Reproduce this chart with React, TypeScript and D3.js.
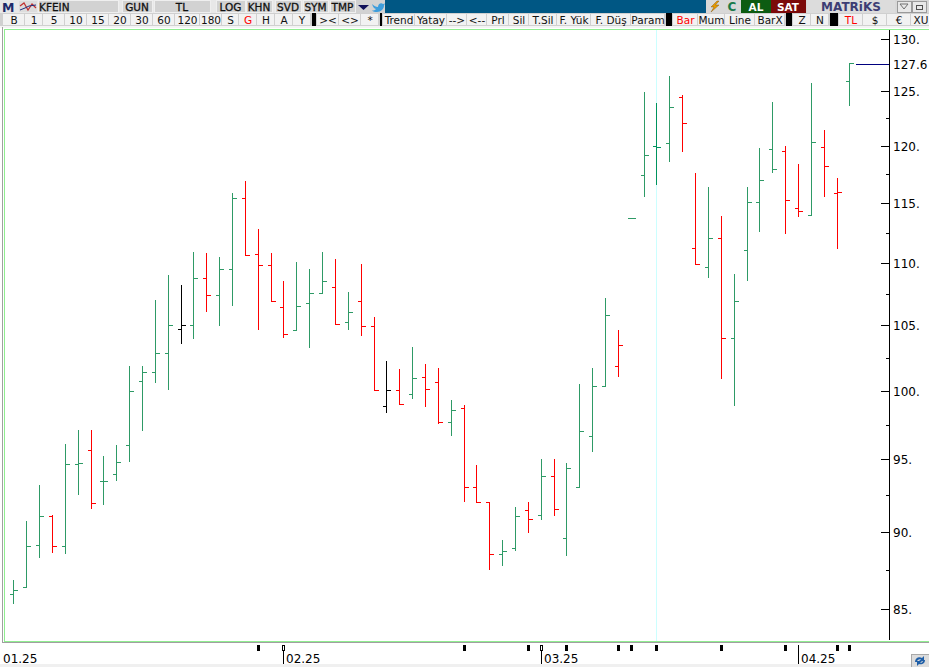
import React, { useRef, useEffect } from 'react';
import * as d3 from 'd3';

const opens = [
  85.94, 86.39, 89.14, 91.09, 89.07, 94.69, 95.68, 93.5, 93.99, 96.06, 100.74,
  101.41, 102.86, 104.72, 105.03, 108.78, 107.41, 109.51, 115.47, 110.74, 109.84,
  106.45, 104.64, 106.77, 107.57, 108.05, 105.27, 106.93, 104.95, 98.88, 100.06,
  99.76, 101.04, 100.66, 97.7, 98.73, 93.08, 92.04, 88.54, 88.94, 91.5,
  91.16, 93.85, 89.61, 93.08, 96.69, 100.36, 101.87, 113.76, 117.46, 120.03,
  120.3, 124.5, 111.24, 109.67, 112.07, 104.02, 111.07, 115.12, 119.76, 119.58,
  114.61, 114.01, 119.94, 115.9, 125.99,
];
const highs = [
  86.86, 90.77, 93.24, 91.16, 96.13, 97.14, 97.14, 95.21, 96.06, 101.89, 101.89,
  107.03, 108.97, 108.16, 110.93, 110.77, 110.52, 115.92, 116.88, 112.85, 110.77,
  108.48, 110.03, 109.53, 110.93, 110.35, 107.67, 109.94, 105.68, 102.27, 101.59,
  103.27, 102.04, 101.74, 99.27, 98.97, 94.64, 92.04, 89.49, 91.72, 92.06,
  95.06, 95.06, 94.78, 100.46, 101.74, 107.19, 104.66, 113.76, 124.99, 123.88,
  126.49, 124.62, 117.66, 116.44, 113.95, 109.05, 116.44, 119.79, 124.06, 119.97,
  118.37, 125.74, 121.41, 117.14, 127.63,
];
const lows = [
  85.34, 86.39, 88.32, 88.65, 88.58, 92.57, 91.63, 91.88, 93.54, 94.87, 97.14,
  100.63, 100.11, 103.6, 103.99, 106.1, 105.0, 106.58, 110.66, 104.69, 106.93,
  104.06, 104.64, 103.29, 107.57, 105.11, 104.69, 104.22, 100.06, 98.4, 99.02,
  99.44, 98.85, 97.6, 96.73, 92.09, 92.04, 87.53, 87.79, 88.78, 89.98,
  90.86, 91.13, 88.45, 93.08, 95.58, 100.36, 101.08, 113.76, 115.6, 116.64,
  118.66, 119.55, 109.92, 108.83, 100.93, 98.92, 108.58, 112.68, 117.75, 112.46,
  113.89, 114.01, 115.6, 111.21, 123.72,
];
const closes = [
  86.2, 89.07, 91.09, 89.03, 94.69, 94.76, 91.98, 93.5, 94.83, 99.99, 101.41,
  102.86, 105.03, 105.03, 108.78, 107.41, 109.51, 115.47, 110.66, 109.84, 106.93,
  104.33, 106.53, 107.57, 108.53, 105.11, 106.05, 104.95, 100.06, 100.06, 99.02,
  100.96, 100.14, 97.7, 98.58, 93.08, 92.04, 88.54, 88.74, 91.09, 90.88,
  93.85, 91.56, 94.41, 97.05, 100.36, 105.82, 103.48, 113.76, 119.23, 119.94,
  123.57, 122.11, 109.92, 112.07, 104.02, 106.93, 115.12, 117.03, 117.99, 115.29,
  114.35, 120.39, 118.25, 115.98, 127.63,
];

const majorTicks = [130, 125, 120, 115, 110, 105, 100, 95, 90, 85];
const minorTicks = [122.5, 117.5, 112.5, 107.5, 102.5, 97.5, 92.5, 87.5];
const lastPrice = 127.6;

const monthLabels = ['02.25', '03.25', '04.25'];
const monthBars = [21, 41, 61];
const eventBars = [19, 35, 40, 43, 47, 48, 50, 55, 60, 64, 65];
const cursorBar = 50;

const topLabels = ['KFEIN', 'GUN', 'TL', 'LOG', 'KHN', 'SVD', 'SYM', 'TMP'];
const topEdges = [[38, 118], [122, 152], [154, 210], [216, 245], [246, 272], [275, 301], [303, 328], [330, 355]];

const rowLabels = [
  'B', '1', '5', '10', '15', '20', '30', '60', '120', '180', 'S', 'G', 'H', 'A', 'Y', '|',
  '><', '<>', '*', '|', 'Trend', 'Yatay', '-->', '<--', 'Prl', 'Sil', 'T.Sil', 'F. Yük', 'F. Düş', 'Param', '|',
  'Bar', 'Mum', 'Line', 'BarX', '|', 'Z', 'N', '|', 'TL', '$', '€', 'XU',
];
const rowEdges = [
  3, 25, 43, 65, 87, 109, 131, 153, 175, 200, 222, 239, 257, 275, 293, 311,
  317, 339, 361, 379, 383, 415, 447, 467, 487, 509, 529, 557, 591, 631, 665,
  673, 698, 725, 755, 785, 793, 811, 829, 839, 863, 887, 911, 931,
];
const redLabels = ['G', 'Bar', 'TL'];

const GREEN = '#2e9a66';
const RED = '#ff0000';
const FONT = '"DejaVu Sans", Verdana, sans-serif';

const App: React.FC = () => {
  const ref = useRef<SVGSVGElement>(null);

  useEffect(() => {
    const svg = d3.select(ref.current);
    svg.selectAll('*').remove();

    const width = 929;
    const height = 667;
    const plotTop = 29;
    const plotBottom = 641;
    const axisX = 889;

    const x = d3.scaleLinear().domain([0, 65]).range([13.9, 849.9]);
    const y = d3.scaleLog().domain([130, 85]).range([39.3, 609.1]);
    const px = (i: number) => Math.floor(x(i)) + 0.5;
    const py = (v: number) => Math.floor(y(v)) + 0.5;

    svg.append('rect').attr('width', width).attr('height', height).attr('fill', '#ffffff');

    // frame
    const chrome = svg.append('g').attr('shape-rendering', 'crispEdges');
    chrome.append('rect').attr('x', 0).attr('y', 26).attr('width', width).attr('height', 2).attr('fill', '#f4f4f4');
    chrome.append('rect').attr('x', 2).attr('y', 27).attr('width', 1).attr('height', 616).attr('fill', '#a0a0a0');
    chrome.append('rect').attr('x', 4).attr('y', 29).attr('width', 1).attr('height', 613).attr('fill', '#90ee90');
    chrome.append('rect').attr('x', 4).attr('y', plotTop).attr('width', width).attr('height', 1).attr('fill', '#90ee90');
    chrome.append('rect').attr('x', 4).attr('y', plotBottom).attr('width', width).attr('height', 1).attr('fill', '#90ee90');
    chrome.append('rect').attr('x', 2).attr('y', plotBottom + 1).attr('width', width).attr('height', 1).attr('fill', '#a0a0a0');
    chrome.append('rect').attr('x', 0).attr('y', 664).attr('width', width).attr('height', 3).attr('fill', '#f0f0f0');

    // cursor line
    chrome.append('line')
      .attr('x1', px(cursorBar)).attr('x2', px(cursorBar))
      .attr('y1', plotTop + 1).attr('y2', plotBottom)
      .attr('stroke', '#ccffff');

    // OHLC bars, coloured against the previous close
    const barColor = (i: number) => {
      if (i === 0 || closes[i] > closes[i - 1]) return i === cursorBar ? '#00945f' : GREEN;
      if (closes[i] < closes[i - 1]) return RED;
      return '#000000';
    };
    svg.append('g').attr('shape-rendering', 'crispEdges')
      .selectAll('path')
      .data(d3.range(closes.length))
      .enter().append('path')
        .attr('fill', 'none')
        .attr('stroke', d => barColor(d))
        .attr('stroke-width', 1)
        .attr('d', d => {
          const cx = px(d);
          const stem = `M${cx},${Math.floor(y(highs[d]))}V${Math.floor(y(lows[d])) + 1}`;
          const open = `M${cx - 3.5},${py(opens[d])}H${cx}`;
          const close = `M${cx},${py(closes[d])}H${cx + 4}`;
          return stem + open + close;
        });

    // price axis
    const axis = svg.append('g').attr('shape-rendering', 'crispEdges');
    axis.append('line')
      .attr('x1', axisX + 0.5).attr('x2', axisX + 0.5)
      .attr('y1', 30).attr('y2', 640)
      .attr('stroke', '#000');
    axis.selectAll('line.major').data(majorTicks).enter().append('line')
      .attr('class', 'major')
      .attr('x1', axisX - 8).attr('x2', axisX)
      .attr('y1', d => py(d)).attr('y2', d => py(d))
      .attr('stroke', '#000');
    axis.selectAll('line.minor').data(minorTicks).enter().append('line')
      .attr('class', 'minor')
      .attr('x1', axisX - 3).attr('x2', axisX)
      .attr('y1', d => py(d)).attr('y2', d => py(d))
      .attr('stroke', '#000');
    svg.append('g').selectAll('text').data(majorTicks).enter().append('text')
      .attr('x', 893)
      .attr('y', d => py(d) + 4.5)
      .attr('font-family', FONT)
      .attr('font-size', 12)
      .attr('fill', '#000')
      .text(d => `${d}.`);

    // last price marker
    axis.append('line')
      .attr('x1', 856).attr('x2', axisX)
      .attr('y1', py(lastPrice)).attr('y2', py(lastPrice))
      .attr('stroke', '#00007f');
    svg.append('text')
      .attr('x', 893).attr('y', py(lastPrice) + 4.5)
      .attr('font-family', FONT).attr('font-size', 12)
      .text(lastPrice.toFixed(1));

    // time axis
    const time = svg.append('g');
    const timeMarks = time.append('g').attr('shape-rendering', 'crispEdges');
    timeMarks.selectAll('rect.evt').data(eventBars).enter().append('rect')
      .attr('class', 'evt')
      .attr('x', d => px(d) - 1.5).attr('y', 645)
      .attr('width', 3).attr('height', 6)
      .attr('fill', '#000');
    timeMarks.selectAll('rect.mon').data(monthBars.slice(0, 2)).enter().append('rect')
      .attr('class', 'mon')
      .attr('x', d => px(d) - 1).attr('y', 645.5)
      .attr('width', 2).attr('height', 5)
      .attr('fill', '#fff').attr('stroke', '#000');
    timeMarks.selectAll('line').data(monthBars).enter().append('line')
      .attr('x1', d => px(d)).attr('x2', d => px(d))
      .attr('y1', (d, i) => (i < 2 ? 650 : 645)).attr('y2', 664)
      .attr('stroke', '#000');
    time.selectAll('text.month').data(monthLabels).enter().append('text')
      .attr('class', 'month')
      .attr('x', (d, i) => px(monthBars[i]) + 2.5)
      .attr('y', 663)
      .attr('font-family', FONT).attr('font-size', 12).attr('fill', '#000')
      .text(d => d);
    time.append('text')
      .attr('x', 3).attr('y', 663)
      .attr('font-family', FONT).attr('font-size', 12).attr('fill', '#000')
      .text('01.25');

    // top toolbar
    const tb = svg.append('g');
    const tbBoxes = tb.append('g').attr('shape-rendering', 'crispEdges');
    tbBoxes.append('rect').attr('width', width).attr('height', 13).attr('fill', '#e8e8e8');
    tbBoxes.append('rect').attr('x', 385).attr('width', 321).attr('height', 13).attr('fill', '#005784');
    topLabels.forEach((label, i) => {
      const [a, b] = topEdges[i];
      tbBoxes.append('rect').attr('x', a).attr('y', 0).attr('width', b - a).attr('height', 12)
        .attr('fill', '#d2d2d2').attr('stroke', '#efefef');
      tb.append('text')
        .attr('x', i === 0 ? a + 1 : (a + b) / 2).attr('y', 10.5)
        .attr('text-anchor', i === 0 ? 'start' : 'middle')
        .attr('font-family', FONT).attr('font-size', 10.5).attr('fill', '#111')
        .attr('stroke', '#111').attr('stroke-width', 0.3)
        .text(label);
    });

    // logo and small icons
    tb.append('text').attr('x', 2).attr('y', 12)
      .attr('font-family', FONT).attr('font-weight', 'bold').attr('font-size', 12.5).attr('fill', '#1d2a6b').text('M');
    tbBoxes.append('rect').attr('x', 19).attr('y', 1).attr('width', 18).attr('height', 11).attr('fill', '#dcdcdc');
    tb.append('path').attr('d', 'M20,6L24,3L28,10L32,4L36,8').attr('fill', 'none').attr('stroke', '#c03030').attr('stroke-width', 1.2);
    tb.append('path').attr('d', 'M20,10L25,8L29,6L36,5').attr('fill', 'none').attr('stroke', '#203080').attr('stroke-width', 1);
    tbBoxes.append('rect').attr('x', 356).attr('y', 0).attr('width', 15).attr('height', 13).attr('fill', '#d2d2d2');
    tb.append('path').attr('d', 'M358,5H369L363.5,10Z').attr('fill', '#10105a');
    tbBoxes.append('rect').attr('x', 371).attr('y', 0).attr('width', 14).attr('height', 13).attr('fill', '#d2d2d2');
    tb.append('path')
      .attr('d', 'M372,4C374,6 376,7 378,7C378,4 381,2 383,4L385,3.5L384,5.5C384,9 381,12 377,12C375,12 373,11.5 372,10.5C374,10.5 375,10 376,9C374,8.5 373,7 372,4Z')
      .attr('fill', '#3d9ddc');

    // right block of the top row
    tbBoxes.append('rect').attr('x', 706).attr('width', 223).attr('height', 13).attr('fill', '#d8d8d8');
    tb.append('path').attr('d', 'M717,1L711,7H714L711,12L719,5H715.5L719,1Z').attr('fill', '#e69a00').attr('stroke', '#7a4a00').attr('stroke-width', 0.4);
    tb.append('text').attr('x', 732).attr('y', 10.5).attr('text-anchor', 'middle')
      .attr('font-family', FONT).attr('font-weight', 'bold').attr('font-size', 12).attr('fill', '#1a7a4a').text('C');
    tbBoxes.append('rect').attr('x', 741).attr('width', 30).attr('height', 13).attr('fill', '#0d5c12');
    tb.append('text').attr('x', 756).attr('y', 10.5).attr('text-anchor', 'middle')
      .attr('font-family', FONT).attr('font-weight', 'bold').attr('font-size', 10.5).attr('fill', '#fff').text('AL');
    tbBoxes.append('rect').attr('x', 771).attr('width', 35).attr('height', 13).attr('fill', '#7c0a0a');
    tb.append('text').attr('x', 788).attr('y', 10.5).attr('text-anchor', 'middle')
      .attr('font-family', FONT).attr('font-weight', 'bold').attr('font-size', 10.5).attr('fill', '#fff').text('SAT');
    tbBoxes.append('rect').attr('x', 807).attr('width', 88).attr('height', 13).attr('fill', '#dcdcdc');
    tb.append('text').attr('x', 851).attr('y', 11).attr('text-anchor', 'middle')
      .attr('font-family', FONT).attr('font-weight', 'bold').attr('font-size', 12).attr('fill', '#3d3d74').text('MATRiKS');
    tbBoxes.append('rect').attr('x', 897).attr('y', 1).attr('width', 14).attr('height', 11).attr('fill', '#e8e8e8').attr('stroke', '#9a9a9a');
    tbBoxes.append('rect').attr('x', 912).attr('y', 1).attr('width', 14).attr('height', 11).attr('fill', '#e8e8e8').attr('stroke', '#9a9a9a');
    tb.append('path').attr('d', 'M900,4H908L904,9Z').attr('fill', 'none').attr('stroke', '#707070');
    tbBoxes.append('rect').attr('x', 916).attr('y', 5).attr('width', 6).attr('height', 4).attr('fill', 'none').attr('stroke', '#505050');

    // second toolbar row
    tbBoxes.append('rect').attr('y', 13).attr('width', width).attr('height', 13).attr('fill', '#d0d0d0');
    rowLabels.forEach((label, i) => {
      const a = rowEdges[i];
      const b = rowEdges[i + 1];
      if (label === '|') {
        tbBoxes.append('rect').attr('x', a + 1).attr('y', 13).attr('width', b - a - 2).attr('height', 13).attr('fill', '#000');
        return;
      }
      tbBoxes.append('rect').attr('x', a).attr('y', 14).attr('width', b - a - 1).attr('height', 11).attr('fill', '#f2f2f2');
      tb.append('text')
        .attr('x', (a + b) / 2).attr('y', 24)
        .attr('text-anchor', 'middle')
        .attr('font-family', FONT).attr('font-size', 10.5)
        .attr('fill', redLabels.includes(label) ? '#ff0000' : '#111')
        .text(label);
    });

    // bottom right corner button
    tbBoxes.append('rect').attr('x', 911).attr('y', 654).attr('width', 18).attr('height', 13).attr('fill', '#dcdcdc').attr('stroke', '#a8a8a8');
    tb.append('path').attr('d', 'M915,662C915,658 919,656 922,658L924,656V661H919L921,659.5C919,659 917,660 917,662ZM925,660C925,664 921,665 919,664L917,666V661H922L920,663C922,663 923,662 923,660Z').attr('fill', '#1f5fa8');
  }, []);

  return (
    <svg
      ref={ref}
      width={929}
      height={667}
      style={{ position: 'absolute', top: 0, left: 0 }}
    />
  );
};

export default App;
